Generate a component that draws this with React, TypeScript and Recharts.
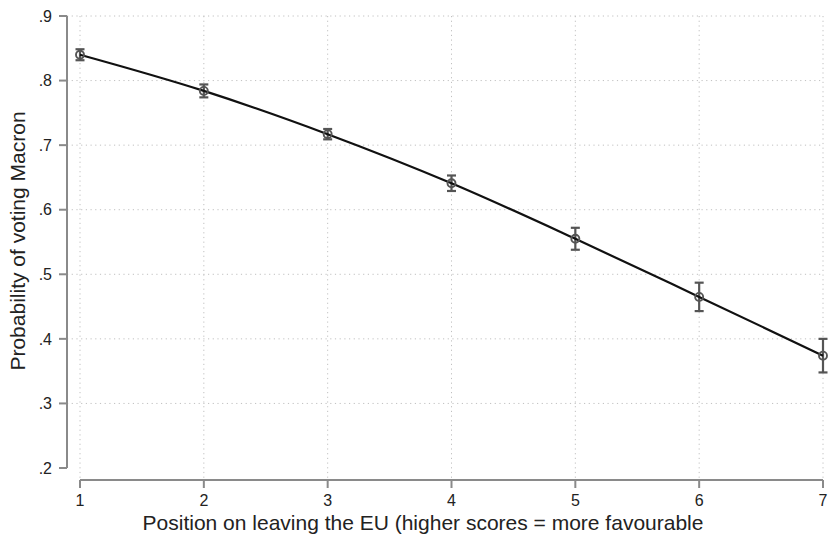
import React from 'react';
import {
  ComposedChart,
  Line,
  XAxis,
  YAxis,
  CartesianGrid,
  ErrorBar,
  ReferenceLine,
  Label,
} from 'recharts';

const positions = [1, 2, 3, 4, 5, 6, 7];
const probabilities = [0.84, 0.784, 0.717, 0.641, 0.555, 0.465, 0.374];
const ciHalfWidths = [0.0085, 0.01, 0.008, 0.012, 0.017, 0.022, 0.026];
const xTicks = [1, 2, 3, 4, 5, 6, 7];
const yTicks = [0.2, 0.3, 0.4, 0.5, 0.6, 0.7, 0.8, 0.9];
const yGridValues = [0.3, 0.4, 0.5, 0.6, 0.7, 0.8, 0.9];

const data = positions.map((x, i) => ({
  x,
  p: probabilities[i],
  err: ciHalfWidths[i],
}));

const FONT = '"Liberation Sans", Arial, Helvetica, sans-serif';
const AXIS_GRAY = '#8a8a8a';
const MARK_GRAY = '#555555';
const TEXT = '#222222';

const X_LINE_AT_Y = 0.2 - 0.7 * (12 / 452);
const Y_LINE_AT_X = 1 - 6 * (13 / 743);

const fmtY = (v: number) => v.toFixed(1).replace(/^0/, '');

const HollowDot = (props: any) => {
  const { cx, cy } = props;
  if (cx == null || cy == null) return null;
  return <circle cx={cx} cy={cy} r={4} fill="none" stroke={MARK_GRAY} strokeWidth={1.9} />;
};

const XTick = (props: any) => {
  const { x, y, payload } = props;
  return (
    <text x={x} y={y} dy="0.71em" textAnchor="middle" fill={TEXT} fontSize={16} fontFamily={FONT}>
      {payload.value}
    </text>
  );
};

const YTick = (props: any) => {
  const { x, y, payload } = props;
  return (
    <text x={x} y={y} dy="0.355em" textAnchor="end" fill={TEXT} fontSize={16} fontFamily={FONT}>
      {fmtY(payload.value)}
    </text>
  );
};

export default function App() {
  return (
    <div style={{ position: 'fixed', left: 0, top: 0, width: 828, height: 536, background: '#fff', fontFamily: FONT }}>
      <ComposedChart
        width={828}
        height={536}
        data={data}
        margin={{ top: 16, right: 5, bottom: 0, left: 0 }}
      >
        <CartesianGrid
          stroke="#c0c0c0"
          strokeDasharray="1.2 3.5"
          strokeWidth={1}
          horizontalValues={yGridValues}
          verticalValues={xTicks}
        />
        <XAxis
          dataKey="x"
          type="number"
          domain={[1, 7]}
          ticks={xTicks}
          padding={{ left: 13, right: 0 }}
          axisLine={false}
          tickLine={{ stroke: AXIS_GRAY, strokeWidth: 2 }}
          tickSize={8}
          tickMargin={7}
          height={56}
          tick={<XTick />}
        >
          <Label
            value="Position on leaving the EU (higher scores = more favourable"
            position="insideBottom"
            offset={6}
            dx={-22}
            fontSize={21}
            fill={TEXT}
            fontFamily={FONT}
          />
        </XAxis>
        <YAxis
          type="number"
          domain={[0.2, 0.9]}
          ticks={yTicks}
          padding={{ top: 0, bottom: 12 }}
          axisLine={false}
          tickLine={{ stroke: AXIS_GRAY, strokeWidth: 2 }}
          tickSize={8}
          tickMargin={7}
          width={67}
          tick={<YTick />}
        >
          <Label
            value="Probability of voting Macron"
            angle={-90}
            position="insideLeft"
            offset={18}
            dy={-7}
            fontSize={21}
            fill={TEXT}
            fontFamily={FONT}
            textAnchor="middle"
          />
        </YAxis>
        <ReferenceLine
          segment={[
            { x: 1, y: X_LINE_AT_Y },
            { x: 7, y: X_LINE_AT_Y },
          ]}
          stroke={AXIS_GRAY}
          strokeWidth={2}
          ifOverflow="visible"
        />
        <ReferenceLine
          segment={[
            { x: Y_LINE_AT_X, y: 0.2 },
            { x: Y_LINE_AT_X, y: 0.9 },
          ]}
          stroke={AXIS_GRAY}
          strokeWidth={2}
          ifOverflow="visible"
        />
        <Line
          dataKey="p"
          type="monotone"
          stroke="#111"
          strokeWidth={2.2}
          dot={<HollowDot />}
          activeDot={false}
          isAnimationActive={false}
        >
          <ErrorBar dataKey="err" direction="y" width={4.5} stroke={MARK_GRAY} strokeWidth={2.2} isAnimationActive={false} />
        </Line>
      </ComposedChart>
    </div>
  );
}
